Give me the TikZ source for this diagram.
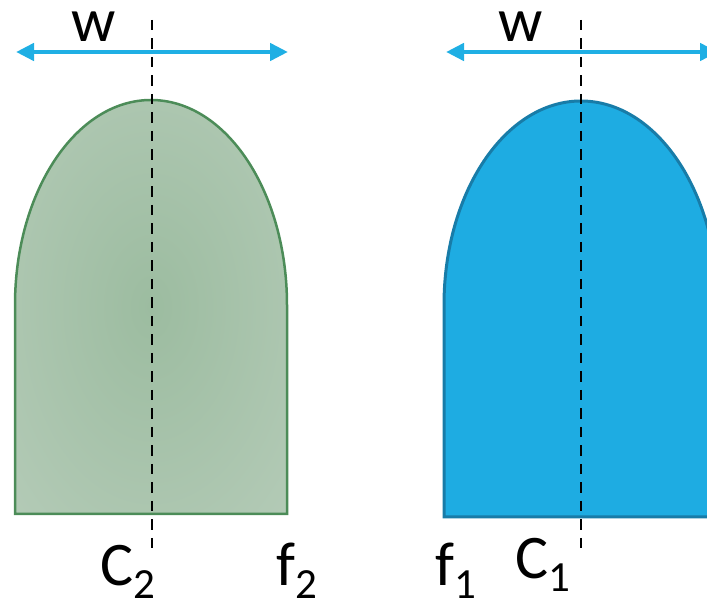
\documentclass[tikz,border=0pt]{standalone}
\usepackage{fontspec}
\setmainfont{Carlito}
\usetikzlibrary{arrows.meta}
\definecolor{bluefill}{RGB}{30,172,226}
\definecolor{bluestroke}{RGB}{24,124,168}
\definecolor{arrowblue}{RGB}{31,175,228}
\definecolor{greenstroke}{RGB}{76,140,88}
\definecolor{ginner}{RGB}{156,188,160}
\definecolor{gouter}{RGB}{182,204,185}
\pgfdeclareradialshading{greenglow}{\pgfpoint{0bp}{0bp}}{color(0bp)=(ginner); color(40bp)=(gouter); color(50bp)=(gouter)}
\tikzset{
  widtharrow/.style={draw=arrowblue, line width=4.5pt, {Triangle[length=18pt,width=17pt]}-{Triangle[length=18pt,width=17pt]}},
  axisline/.style={draw=black, line width=2.7pt, dash pattern=on 10.5pt off 8pt},
  lbl/.style={inner sep=0pt, anchor=base west, font=\fontsize{62}{70}\selectfont},
}
\newcommand{\subdig}[1]{\raisebox{-13pt}{\fontsize{43}{43}\selectfont #1}}
\begin{document}
\begin{tikzpicture}[x=1pt,y=1pt]
\useasboundingbox (0,0) rectangle (707,600);
\begin{scope}
\clip (0,0) rectangle (707,600);
% left shape (green, shaded)
\path[shading=greenglow, draw=greenstroke, line width=2.5pt]
  (15,86) -- (15,295) arc[start angle=180, end angle=0, x radius=136pt, y radius=205pt] -- (287,86) -- cycle;
% right shape (blue)
\path[fill=bluefill, draw=bluestroke, line width=3pt]
  (444,83) -- (444,295) arc[start angle=180, end angle=0, x radius=137pt, y radius=204pt] -- (718,83) -- cycle;
% coordinates
\coordinate (wl1) at (16,548);
\coordinate (wl2) at (288,548);
\coordinate (wr1) at (446,548);
\coordinate (wr2) at (718,548);
\coordinate (cl1) at (152,580);
\coordinate (cl2) at (152,52);
\coordinate (cr1) at (581,580);
\coordinate (cr2) at (581,52);
% width arrows
\draw[widtharrow] (wl1) -- (wl2);
\draw[widtharrow] (wr1) -- (wr2);
% axes
\draw[axisline] (cl1) -- (cl2);
\draw[axisline] (cr1) -- (cr2);
\end{scope}
% labels
\node[lbl] (wleft) at (71,558) {w};
\node[lbl] (wright) at (498,558) {w};
\node[lbl] (c2) at (100,15) {C\subdig{2}};
\node[lbl] (f2) at (276,15) {f\subdig{2}};
\node[lbl] (f1) at (435,15) {f\subdig{1}};
\node[lbl] (c1) at (515,22) {C\subdig{1}};
\end{tikzpicture}
\end{document}
